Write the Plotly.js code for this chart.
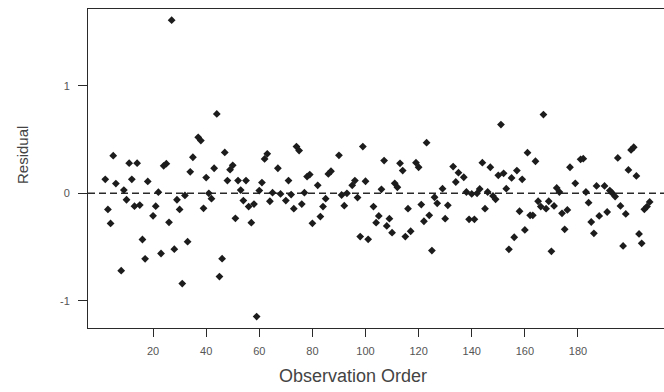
<!DOCTYPE html>
<html><head><meta charset="utf-8">
<script src="https://cdn.plot.ly/plotly-3.0.1.min.js"></script>
<style>html,body{margin:0;padding:0;background:#fff;overflow:hidden}#chart{width:664px;height:392px}</style>
</head><body><div id="chart"></div>
<script>
const obs = [2,3,4,5,6,8,9,10,11,12,13,14,15,16,17,18,20,21,22,23,24,25,26,27,28,29,30,31,32,33,34,35,37,38,39,40,41,42,43,44,45,46,47,48,49,50,51,52,53,54,55,56,57,58,59,60,61,62,63,64,65,67,68,70,71,72,73,74,75,76,77,78,79,80,82,83,84,85,86,87,90,91,92,93,95,96,97,98,99,100,101,103,104,105,106,107,108,109,110,111,112,113,114,115,116,117,119,120,121,122,123,124,125,126,127,129,130,131,133,134,135,137,138,139,140,141,142,143,144,145,146,147,148,149,150,151,152,153,154,155,156,157,158,159,160,161,162,163,164,165,166,167,168,169,170,171,172,173,174,175,176,177,179,181,182,183,184,185,186,187,188,190,191,192,193,194,195,196,197,198,199,200,201,202,203,204,205,206,207];
const residual = [0.13,-0.15,-0.28,0.35,0.09,-0.72,0.03,-0.06,0.28,0.13,-0.12,0.28,-0.11,-0.43,-0.61,0.11,-0.21,-0.12,0.01,-0.56,0.255,0.275,-0.27,1.61,-0.52,-0.06,-0.15,-0.84,-0.02,-0.45,0.20,0.335,0.52,0.49,-0.14,0.146,0.0,-0.05,0.233,0.738,-0.775,-0.608,0.38,0.118,0.22,0.26,-0.233,0.118,0.03,-0.068,0.118,-0.124,-0.273,-0.10,-1.147,0.025,0.10,0.32,0.367,-0.074,0.006,0.233,-0.006,-0.068,0.118,-0.012,-0.143,0.434,0.397,-0.10,0.006,0.155,0.174,-0.279,0.074,-0.217,-0.124,-0.05,0.18,0.205,0.353,-0.016,-0.115,0.0,0.074,0.118,-0.04,-0.403,0.434,0.112,-0.428,-0.124,-0.273,-0.211,0.037,0.304,-0.304,-0.236,-0.366,0.093,0.056,0.279,0.211,-0.403,-0.143,-0.353,0.285,0.242,-0.105,-0.26,0.471,-0.205,-0.533,-0.037,-0.093,0.043,-0.236,-0.112,0.248,0.105,0.192,0.149,0.012,-0.242,-0.006,-0.242,0.0,0.04,0.285,-0.143,0.012,0.242,-0.025,-0.056,0.167,0.639,0.186,0.043,-0.521,0.143,-0.409,0.211,-0.167,0.13,-0.341,0.378,-0.205,-0.205,0.298,-0.074,-0.124,0.732,-0.143,-0.074,-0.54,-0.118,0.05,0.012,-0.186,-0.335,-0.155,0.242,0.093,0.316,0.322,0.012,-0.087,-0.267,-0.372,0.068,-0.211,0.068,-0.174,0.025,0.0,-0.031,0.329,-0.118,-0.49,-0.192,0.217,0.403,0.428,0.161,-0.378,-0.465,-0.149,-0.124,-0.08];
const xTicks = [20,40,60,80,100,120,140,160,180];
const yTicks = [-1,0,1];
const xTitle = "Observation Order";
const yTitle = "Residual";

const font = "Liberation Sans, Arial, sans-serif";
const trace = {
  x: obs, y: residual, type: "scatter", mode: "markers",
  marker: {symbol: "diamond", size: 6, color: "#1c1c1c"},
  hoverinfo: "x+y", showlegend: false
};
const layout = {
  width: 664, height: 392,
  margin: {l: 88, r: 0, t: 9, b: 64, pad: 0},
  paper_bgcolor: "#fff", plot_bgcolor: "#fff",
  font: {family: font, color: "#444", size: 11},
  xaxis: {
    range: [-4.5, 212.4], tickvals: xTicks, ticktext: xTicks.map(String),
    showgrid: false, zeroline: false, showline: true, linecolor: "#2a2a2a", linewidth: 1,
    mirror: true, ticks: "outside", ticklen: 8, tickcolor: "#2a2a2a", tickwidth: 1,
    ticklabelstandoff: 5, tickfont: {family: font, size: 11, color: "#555"}
  },
  yaxis: {
    range: [-1.253, 1.714], tickvals: yTicks, ticktext: yTicks.map(String),
    showgrid: false, zeroline: false, showline: true, linecolor: "#2a2a2a", linewidth: 1,
    mirror: false, ticks: "outside", ticklen: 9, tickcolor: "#2a2a2a", tickwidth: 1,
    ticklabelstandoff: 6, tickfont: {family: font, size: 11, color: "#555"}
  },
  shapes: [{type: "line", xref: "paper", x0: 0, x1: 1, yref: "y", y0: 0, y1: 0,
            line: {color: "#2a2a2a", width: 1.5, dash: "7px,4px"}, layer: "below"}],
  annotations: [
    {text: xTitle, xref: "paper", yref: "paper", x: (353 - 88) / 576, y: -(376 - 328) / 319,
     xanchor: "center", yanchor: "middle", showarrow: false, font: {family: font, size: 18, color: "#444"}},
    {text: yTitle, xref: "paper", yref: "paper", x: -(88 - 23) / 576, y: (328 - 155) / 319,
     xanchor: "center", yanchor: "middle", textangle: -90, showarrow: false, font: {family: font, size: 15, color: "#444"}}
  ]
};
Plotly.newPlot("chart", [trace], layout, {displayModeBar: false, staticPlot: true});
</script></body></html>
